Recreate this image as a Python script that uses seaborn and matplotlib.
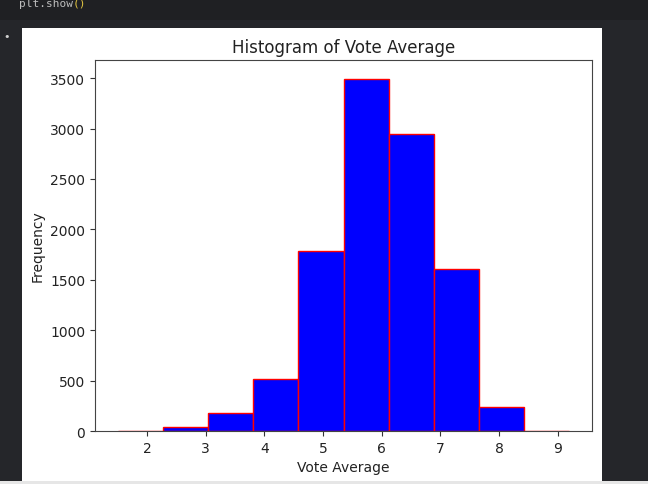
import numpy as np
import matplotlib
matplotlib.use("Agg")
import matplotlib.pyplot as plt
import seaborn as sns
from matplotlib.patches import Rectangle

# bin edges and counts
bin_edges = [1.50, 2.27, 3.04, 3.81, 4.58, 5.35, 6.12, 6.89, 7.66, 8.43, 9.20]
counts = [4, 43, 182, 517, 1790, 3490, 2943, 1611, 239, 4]
bin_centers = [(a + b) / 2 for a, b in zip(bin_edges[:-1], bin_edges[1:])]

fig = plt.figure(figsize=(6.48, 4.85), dpi=100)
fig.patch.set_facecolor("#25262a")

# notebook chrome: code cell strip and white output panel
fig.patches.append(Rectangle((0, 1 - 21 / 485), 1, 21 / 485, transform=fig.transFigure,
                             facecolor="#1f2023", edgecolor="none", zorder=-5))
fig.patches.append(Rectangle((22 / 648, 0), 580 / 648, 1 - 29 / 485, transform=fig.transFigure,
                             facecolor="white", edgecolor="none", zorder=-5))
fig.patches.append(Rectangle((0, 0), 1, 3 / 485, transform=fig.transFigure,
                             facecolor="#e6e6e6", edgecolor="none", zorder=-4))
fig.text(19 / 648, 1 - 4 / 485, "plt.show", family="DejaVu Sans Mono", fontsize=8,
         color="#bdbdbd", va="center", ha="left")
fig.text(19 / 648 + 8 * 6.7 / 648, 1 - 4 / 485, "()", family="DejaVu Sans Mono", fontsize=8,
         color="#e0c341", va="center", ha="left")
fig.text(3 / 648, 1 - 37 / 485, "•", fontsize=8, color="#d0d0d0", va="center", ha="left")

ax = fig.add_axes([95 / 648, 1 - 432 / 485, 497 / 648, 371 / 485])
sns.histplot(x=bin_centers, weights=counts, bins=bin_edges, color="blue",
             edgecolor="red", linewidth=1, alpha=1, ax=ax)

ax.set_title("Histogram of Vote Average", fontsize=12, color="#222222")
ax.set_xlabel("Vote Average", color="#222222")
ax.set_ylabel("Frequency", color="#222222")
ax.set_xticks(range(2, 10))
ax.margins(x=0.05)
ax.set_ylim(0, 3680)
ax.tick_params(colors="#333333", labelcolor="#222222")
for s in ax.spines.values():
    s.set_color("#444444")

plt.savefig("out.png", dpi=100, facecolor=fig.get_facecolor())
